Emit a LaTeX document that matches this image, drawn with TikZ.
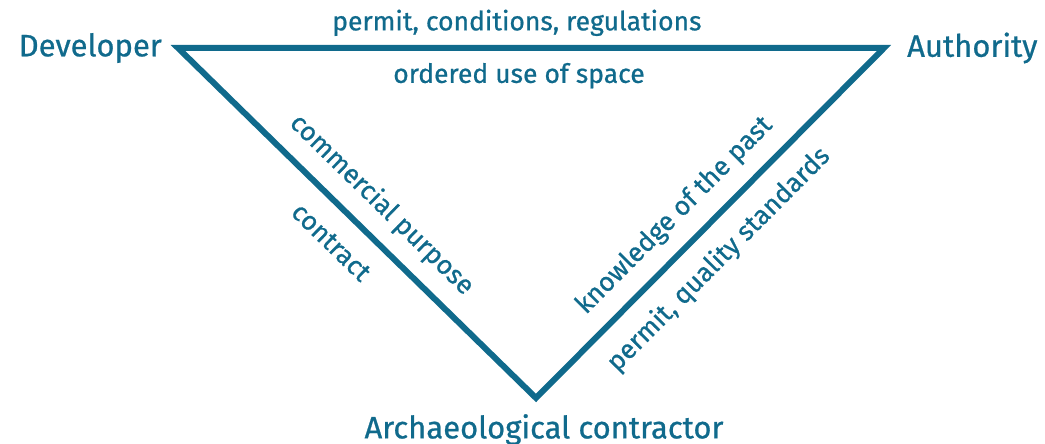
\documentclass[tikz,border=0pt]{standalone}
\usepackage{fontspec}
\setmainfont{Fira Sans}
\newfontfamily\trifont[FakeBold=0.7]{Fira Sans}
\usetikzlibrary{positioning}
\definecolor{triblue}{RGB}{16,106,140}
\begin{document}
\begin{tikzpicture}[x=1pt,y=1pt,
    edge/.style={line width=6pt,draw=triblue},
    role/.style={text=triblue,font=\trifont\fontsize{31}{31}\selectfont,inner sep=0pt},
    lbl/.style={text=triblue,font=\trifont\fontsize{26.5}{27}\selectfont,inner sep=0pt,sloped}]
  \useasboundingbox (0,0) rectangle (1045,444);
  \coordinate (dev) at (178,396);
  \coordinate (auth) at (884,396);
  \coordinate (arch) at (536,46);
  \draw[edge] (dev)
      -- node[lbl,pos=0.48,above=9pt]{permit, conditions, regulations}
         node[lbl,pos=0.483,below=12pt]{ordered use of space} (auth)
      -- node[lbl,pos=0.54,above=14.5pt]{knowledge of the past}
         node[lbl,pos=0.54,below=16pt]{permit, quality standards} (arch)
      -- node[lbl,pos=0.49,above=14pt]{commercial purpose}
         node[lbl,pos=0.51,below=20pt]{contract} cycle;
  \node[role,left=16pt of dev] (developer) {Developer};
  \node[role,right=23pt of auth] (authority) {Authority};
  \node[role,below=16pt of arch,xshift=8pt] (contractor) {Archaeological contractor};
\end{tikzpicture}
\end{document}
